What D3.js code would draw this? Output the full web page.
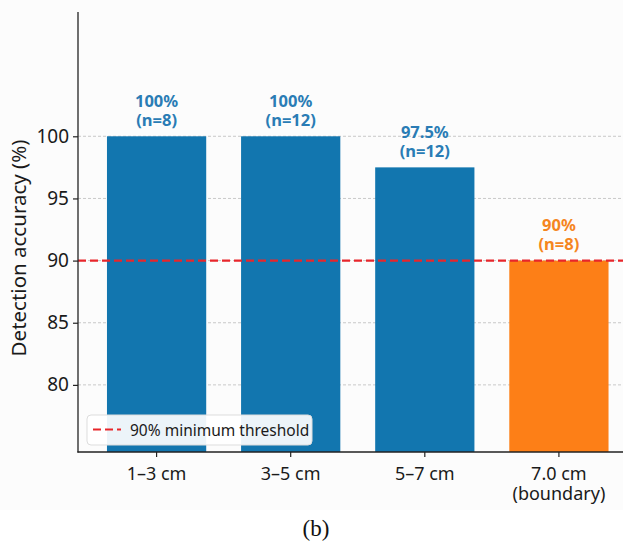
<!DOCTYPE html>
<html>
<head>
<meta charset="utf-8">
<script src="https://cdn.jsdelivr.net/npm/d3@7"></script>
<style>
  html, body { margin: 0; padding: 0; background: #ffffff; }
  svg { display: block; }
</style>
</head>
<body>
<svg id="chart" width="623" height="543"></svg>
<script>
// ---- data ----
const categories = ["1–3 cm", "3–5 cm", "5–7 cm", "7.0 cm\n(boundary)"];
const accuracy = [100, 100, 97.5, 90];
const sampleSizes = [8, 12, 12, 8];
const valueLabels = ["100%", "100%", "97.5%", "90%"];
const isBoundary = [false, false, false, true];
const yTicks = [80, 85, 90, 95, 100];
const thresholdValue = 90;
const thresholdLabel = "90% minimum threshold";
const yAxisTitle = "Detection accuracy (%)";
const caption = "(b)";

// ---- layout ----
const svg = d3.select("#chart");
const W = 623, H = 543;
const plot = { left: 78, top: 12, bottom: 452, right: 637.5 };
const font = "'Noto Sans', 'Open Sans', sans-serif";
const blue = "#1276af", orange = "#fd7f17", red = "#e8262b";
const blueText = "#2a7cb5", orangeText = "#f5861f";

svg.append("rect").attr("x", 0).attr("y", 0).attr("width", W).attr("height", 510).attr("fill", "#fcfcfc");

const x = d3.scaleBand()
  .domain(categories)
  .range([plot.left, plot.right])
  .paddingInner(0.26)
  .paddingOuter(0.216);

const y = d3.scaleLinear()
  .domain([74.6, 110])
  .range([plot.bottom, plot.top]);

// grid
const grid = svg.append("g");
grid.selectAll("line").data(yTicks).join("line")
  .attr("x1", plot.left).attr("x2", W)
  .attr("y1", d => y(d)).attr("y2", d => y(d))
  .attr("stroke", "#c9c9c9").attr("stroke-width", 1)
  .attr("stroke-dasharray", "3,2");

// bars
const data = categories.map((c, i) => ({ c, v: accuracy[i], n: sampleSizes[i], lab: valueLabels[i], b: isBoundary[i] }));
svg.append("g").selectAll("rect").data(data).join("rect")
  .attr("x", d => x(d.c))
  .attr("width", x.bandwidth())
  .attr("y", d => y(d.v))
  .attr("height", d => plot.bottom - y(d.v))
  .attr("fill", d => d.b ? orange : blue);

// threshold
svg.append("line")
  .attr("x1", plot.left).attr("x2", W)
  .attr("y1", y(thresholdValue)).attr("y2", y(thresholdValue))
  .attr("stroke", red).attr("stroke-width", 2.2)
  .attr("stroke-dasharray", "8,4");

// value labels (one text element, two lines)
const lg = svg.append("g").attr("font-family", font).attr("font-weight", "bold")
  .attr("font-size", 16.5).attr("text-anchor", "middle");
data.forEach(d => {
  const cx = x(d.c) + x.bandwidth() / 2;
  const top = y(d.v);
  const col = d.b ? orangeText : blueText;
  const t = lg.append("text").attr("x", cx).attr("y", top - 29.5).attr("fill", col);
  t.append("tspan").attr("x", cx).attr("dy", 0).text(d.lab);
  t.append("tspan").attr("x", cx).attr("dy", 19).text(`(n=${d.n})`);
});

// axes
const yAxis = d3.axisLeft(y).tickValues(yTicks).tickSize(5).tickPadding(4).tickFormat(d3.format("d"));
const gy = svg.append("g").attr("transform", `translate(${plot.left},0)`).call(yAxis);
gy.select(".domain").remove();
gy.selectAll(".tick line").attr("stroke", "#222").attr("stroke-width", 1.2);
gy.selectAll(".tick text").attr("font-family", font).attr("font-size", 19).attr("fill", "#1a1a1a");
svg.append("line").attr("x1", plot.left).attr("x2", plot.left)
  .attr("y1", plot.top).attr("y2", plot.bottom + 0.6)
  .attr("stroke", "#222").attr("stroke-width", 1.3);

const xAxis = d3.axisBottom(x).tickSize(5).tickFormat("");
const gx = svg.append("g").attr("transform", `translate(0,${plot.bottom})`).call(xAxis);
gx.select(".domain").remove();
gx.selectAll(".tick line").attr("stroke", "#222").attr("stroke-width", 1.2);
svg.append("line").attr("x1", plot.left - 0.6).attr("x2", W)
  .attr("y1", plot.bottom).attr("y2", plot.bottom)
  .attr("stroke", "#222").attr("stroke-width", 1.3);

// x tick labels (multi-line, one text element each)
const xl = svg.append("g").attr("font-family", font).attr("font-size", 18)
  .attr("fill", "#1a1a1a").attr("text-anchor", "middle");
categories.forEach(c => {
  const cx = x(c) + x.bandwidth() / 2;
  const t = xl.append("text").attr("x", cx).attr("y", 480);
  c.split("\n").forEach((line, i) => {
    t.append("tspan").attr("x", cx).attr("dy", i === 0 ? 0 : 20).text(line);
  });
});

// y axis title
svg.append("text")
  .attr("transform", `translate(26,${(plot.top + plot.bottom) / 2 + 16}) rotate(-90)`)
  .attr("text-anchor", "middle")
  .attr("font-family", font).attr("font-size", 20.5)
  .attr("fill", "#1a1a1a")
  .text(yAxisTitle);

// legend
const leg = svg.append("g");
leg.append("rect").attr("x", 87).attr("y", 415).attr("width", 225).attr("height", 30)
  .attr("rx", 4).attr("fill", "#ffffff").attr("fill-opacity", 0.92)
  .attr("stroke", "#dddddd").attr("stroke-width", 1);
leg.append("line").attr("x1", 93).attr("x2", 121).attr("y1", 429.5).attr("y2", 429.5)
  .attr("stroke", red).attr("stroke-width", 2.2).attr("stroke-dasharray", "8,4");
leg.append("text").attr("x", 130).attr("y", 435.5)
  .attr("font-family", font).attr("font-size", 15.5).attr("fill", "#1a1a1a")
  .text(thresholdLabel);

// caption
svg.append("text").attr("x", 316).attr("y", 536).attr("text-anchor", "middle")
  .attr("font-family", "'Liberation Serif', 'Times New Roman', serif").attr("font-size", 23)
  .attr("fill", "#111").text(caption);
</script>
</body>
</html>
